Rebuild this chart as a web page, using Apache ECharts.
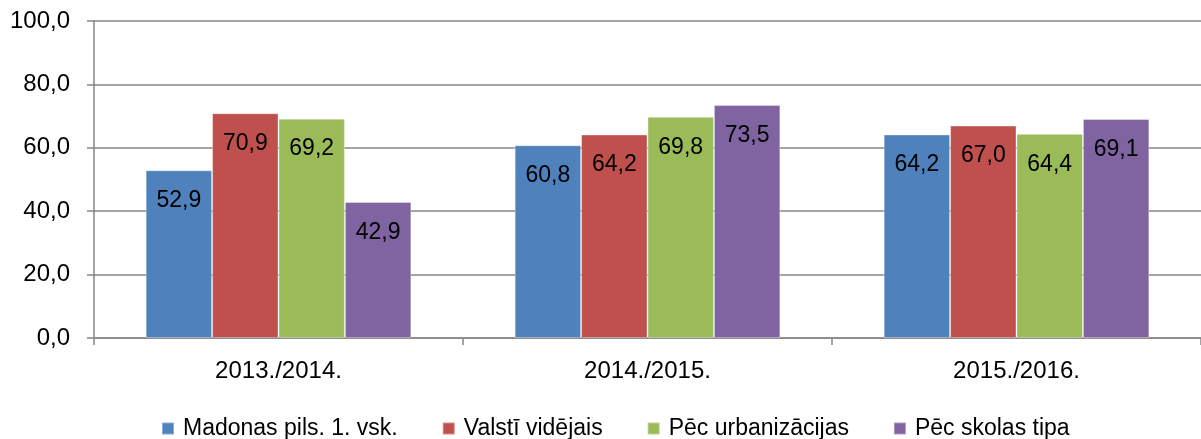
<!DOCTYPE html>
<html>
<head>
<meta charset="utf-8">
<script src="https://cdn.jsdelivr.net/npm/echarts@6/dist/echarts.min.js"></script>
<style>
html, body { margin: 0; padding: 0; background: #fff; }
#chart { width: 1201px; height: 439px; }
</style>
</head>
<body>
<div id="chart"></div>
<script>
var years = ['2013./2014.', '2014./2015.', '2015./2016.'];
var seriesNames = ['Madonas pils. 1. vsk.', 'Valstī vidējais', 'Pēc urbanizācijas', 'Pēc skolas tipa'];
var madona = [52.9, 60.8, 64.2];
var valsts = [70.9, 64.2, 67.0];
var urban = [69.2, 69.8, 64.4];
var skolas = [42.9, 73.5, 69.1];
var colors = ['#4F81BD', '#C0504D', '#9BBB59', '#8064A2'];

function comma(v) {
    return v.toFixed(1).replace('.', ',');
}

var font = 'Liberation Sans, Arial, sans-serif';
var allData = [madona, valsts, urban, skolas];
var series = [];
for (var i = 0; i < allData.length; i++) {
    series.push({
        name: seriesNames[i],
        type: 'bar',
        data: allData[i],
        barGap: '0%',
        barCategoryGap: '28%',
        itemStyle: {color: colors[i], borderColor: 'rgba(255,255,255,0.35)', borderWidth: 1},
        label: {
            show: true,
            position: 'insideTop',
            distance: 19,
            color: '#000',
            fontFamily: font,
            fontSize: 23,
            formatter: function (p) { return comma(p.value); }
        }
    });
}

var myChart = echarts.init(document.getElementById('chart'));
myChart.setOption({
    backgroundColor: '#fff',
    animation: false,
    color: colors,
    grid: {left: 94, right: 0, top: 21, bottom: 101},
    legend: {
        top: 412,
        left: 156,
        icon: 'rect',
        itemWidth: 12,
        itemHeight: 12,
        itemGap: 44,
        textStyle: {fontFamily: font, fontSize: 23, color: '#000', padding: [0, 0, 0, 4]},
        data: seriesNames
    },
    xAxis: {
        type: 'category',
        data: years,
        axisLine: {lineStyle: {color: '#868686', width: 1.5}},
        axisTick: {show: true, length: 7, lineStyle: {color: '#868686', width: 1.5}},
        axisLabel: {fontFamily: font, fontSize: 24, color: '#000', margin: 21}
    },
    yAxis: {
        type: 'value',
        min: 0,
        max: 100,
        interval: 20,
        axisLine: {show: true, lineStyle: {color: '#868686', width: 1.5}},
        axisTick: {show: true, length: 7, lineStyle: {color: '#868686', width: 1.5}},
        splitLine: {lineStyle: {color: '#868686', width: 1.5}},
        axisLabel: {fontFamily: font, fontSize: 24, color: '#000', margin: 24, formatter: comma}
    },
    series: series
});
</script>
</body>
</html>
